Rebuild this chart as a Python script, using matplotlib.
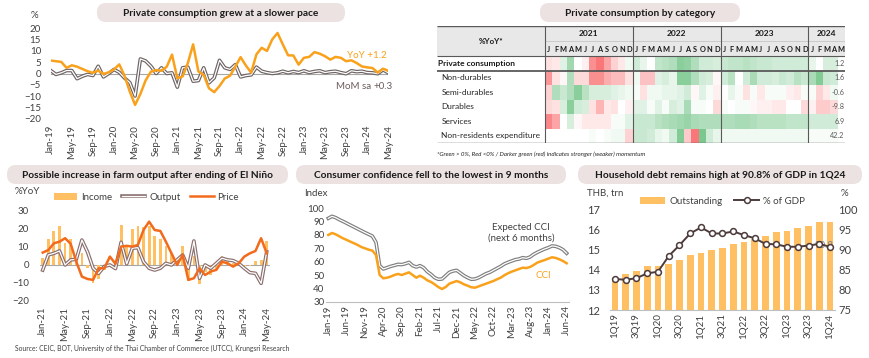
import numpy as np
import pandas as pd
import matplotlib
matplotlib.use("Agg")
import matplotlib.pyplot as plt
from matplotlib.colors import LinearSegmentedColormap
from matplotlib.patches import FancyBboxPatch, Rectangle
from matplotlib.lines import Line2D

plt.rcParams['font.family'] = ['Lato', 'DejaVu Sans']
plt.rcParams['font.size'] = 6.5
plt.rcParams['xtick.labelsize'] = 7
plt.rcParams['ytick.labelsize'] = 7
plt.rcParams['text.color'] = '#404040'
plt.rcParams['xtick.color'] = '#404040'
plt.rcParams['ytick.color'] = '#404040'

W, H = 870, 358

# ---------------- data ----------------
# private consumption, Jan-19 .. May-24
pc_months = pd.date_range('2019-01-01', periods=65, freq='MS').strftime('%b-%y').tolist()
pc_yoy = [5.7, 5.4, 5.1, 2.5, 3.6, 3.0, 2.0, 1.0, 0.3, 1.3, -0.2, 0.5,
          1.8, 4.0, -1.0, -8.0, -13.8, -9.0, -3.0, 0.8, 1.5, 1.2, 3.0, 8.3,
          -2.1, -1.3, 4.6, 12.8, 0.9, -0.6, -6.5, -8.2, -5.5, -2.2, -1.0, 3.0,
          7.2, 3.5, 0.4, 8.4, 11.3, 9.9, 15.0, 17.8, 12.8, 8.0, 7.9, 3.9,
          6.9, 7.3, 9.4, 8.7, 7.6, 6.1, 7.3, 6.9, 5.4, 5.8, 4.6, 3.1,
          2.7, 2.4, 0.4, 2.1, 1.2]
pc_mom = [1.3, -0.4, 0.3, 1.3, 1.3, -2.3, -1.2, -0.4, -0.9, 3.2, -1.5, 0.0,
          1.8, 0.5, -2.0, -4.0, -9.9, 6.4, 5.5, 3.2, 0.0, 2.5, 0.0, 0.3,
          -6.0, 2.5, 2.8, -3.4, -3.1, 2.5, -4.1, -1.9, 5.8, 2.5, 1.8, 3.9,
          -1.5, -0.9, -0.6, 2.8, 1.0, 0.4, 0.0, 0.3, 1.0, 0.3, 0.9, 0.4,
          1.2, 0.4, 0.9, 1.2, 0.4, 0.8, 1.0, 0.4, -0.1, 1.2, 0.8, 1.0,
          0.4, 0.3, -0.1, 1.6, 0.3]

# heatmap momentum scores (-1 red .. +1 green), Jan-21 .. Apr-24
hm_rows = ['Private consumption', 'Non-durables', 'Semi-durables', 'Durables',
           'Services', 'Non-residents expenditure']
hm_private = [-0.2, -0.15, 0.2, 0.6, 0.0, -0.1, -0.75, -0.9, -0.6, -0.3, -0.15, 0.1,
              0.3, 0.15, 0.0, 0.4, 0.45, 0.5, 0.75, 0.7, 0.5, 0.3, 0.3, 0.25,
              0.35, 0.4, 0.4, 0.45, 0.4, 0.35, 0.35, 0.3, 0.3, 0.3, 0.3, 0.3,
              0.15, 0.0, 0.25, 0.25]
hm_nondur = [-0.7, -0.2, -0.05, 0.5, -0.25, -0.25, -0.75, -0.75, -0.55, -0.45, -0.45, -0.2,
             0.1, -0.4, -0.4, 0.2, 0.25, 0.15, 0.75, 0.75, 0.5, 0.3, 0.25, -0.05,
             0.3, 0.45, 0.0, 0.3, 0.55, 0.3, 0.3, 0.25, 0.35, 0.3, 0.45, 0.35,
             0.55, 0.8, 0.35, 0.3]
hm_semidur = [-0.3, 0.5, 0.35, 0.5, 0.75, 0.45, 0.25, 0.25, 0.25, 0.2, 0.15, 0.1,
              0.05, -0.2, 0.1, 0.1, 0.15, 0.15, 0.2, 0.3, -0.05, 0.2, 0.05, -0.1,
              0.0, 0.15, 0.05, -0.2, 0.05, -0.15, 0.05, 0.05, 0.05, -0.1, -0.15, 0.05,
              0.05, -0.3, -0.15, 0.1]
hm_dur = [-0.25, -0.2, 0.25, 0.75, 0.3, 0.25, -0.2, -0.5, -0.15, -0.2, 0.0, -0.1,
          0.2, 0.2, 0.05, 0.2, 0.05, 0.25, 0.2, 0.55, 0.05, 0.05, 0.0, -0.25,
          0.05, 0.0, 0.05, 0.05, -0.05, -0.1, -0.1, -0.15, -0.15, 0.0, 0.0, -0.25,
          -0.1, -0.35, -0.35, -0.25]
hm_services = [-0.8, -0.6, 0.0, 0.25, -0.05, -0.15, -0.15, -0.15, -0.15, 0.05, 0.05, 0.2,
               0.35, 0.35, 0.35, 0.45, 0.5, 0.55, 0.6, 0.65, 0.55, 0.5, 0.5, 0.5,
               0.5, 0.5, 0.55, 0.55, 0.5, 0.45, 0.45, 0.45, 0.45, 0.4, 0.4, 0.4,
               0.3, 0.3, 0.3, 0.3]
hm_nonres = [0.0, 0.0, 0.0, 0.0, 0.0, 0.0, 0.05, 0.0, 0.05, 0.1, 0.1, -0.3,
             0.35, 0.35, 0.3, 0.15, 0.1, 0.3, 0.8, -0.35, -0.9, 0.85, 0.3, 0.15,
             0.1, 0.1, 0.1, 0.1, 0.1, 0.1, 0.1, 0.1, 0.1, 0.1, 0.1, 0.1,
             0.05, 0.05, 0.05, 0.05]
hm_latest = [1.2, 1.6, -0.6, -9.8, 6.9, 42.2]
hm_years = ['2021', '2022', '2023', '2024']
hm_year_len = [12, 12, 12, 5]
hm_month_letters = list('JFMAMJJASOND') * 3 + list('JFMAM')

# farm, Jan-21 .. May-24
farm_months = pd.date_range('2021-01-01', periods=41, freq='MS').strftime('%b-%y').tolist()
farm_income = [3.8, 14.1, 18.5, 21.2, 12.0, 14.0, 3.0, 6.2, -2.0, -10.0, -8.0, -3.0,
               -1.0, 0.5, 22.0, 10.0, 19.5, 21.0, 20.5, 21.0, 15.8, 14.0, 10.0, 6.0,
               2.0, 10.0, -9.0, 5.0, -10.5, -4.0, -5.5, -3.0, 5.0, 2.0, 1.0, 0.5,
               -0.5, -1.0, 2.0, 2.5, 13.0]
farm_output = [-3.0, 5.3, 6.2, 7.5, -0.2, 2.6, 2.9, 13.5, 7.0, -2.0, -4.8, -1.0,
               -0.2, -2.2, 12.3, 0.4, 9.0, 9.3, 1.6, -2.0, -3.0, -2.0, 0.7, -0.2,
               2.6, 5.3, -2.0, 13.0, -7.5, -0.2, -2.0, 0.7, 3.5, 2.6, 2.2, 0.7,
               -2.0, -4.4, -4.8, -10.3, 7.0]
farm_price = [6.6, 8.0, 11.7, 12.6, 14.5, 11.4, 1.6, -6.6, -7.9, -8.4, -2.0, -2.0,
              4.4, 0.4, 9.9, 10.3, 9.9, 10.8, 19.0, 23.6, 19.0, 18.5, 12.6, 6.2,
              -0.2, 5.3, -8.4, -7.5, -2.0, -5.7, -3.8, -2.9, 1.6, 0.7, -1.1, 0.7,
              4.4, 6.2, 7.5, 14.5, 6.2]

# consumer confidence, Jan-19 .. Jun-24
cci_months = pd.date_range('2019-01-01', periods=66, freq='MS').strftime('%b-%y').tolist()
cci_expected = [92.5, 94.0, 93.0, 91.5, 90.2, 88.8, 87.4, 86.0, 84.6, 83.2, 81.8, 80.5,
                79.2, 74.5, 57.0, 54.5, 55.5, 56.5, 57.2, 58.0, 57.8, 58.5, 59.5, 57.0,
                56.0, 57.0, 55.5, 52.5, 50.5, 48.0, 46.8, 47.0, 49.5, 52.0, 53.0, 53.5,
                51.5, 49.5, 48.0, 46.8, 47.0, 48.0, 49.5, 51.0, 52.0, 53.5, 55.0, 56.5,
                58.3, 59.5, 60.5, 61.5, 62.0, 63.0, 62.5, 63.5, 65.5, 67.0, 68.3, 69.5,
                70.5, 71.8, 71.5, 70.5, 69.0, 66.3]
cci = [80.0, 81.5, 80.5, 79.0, 77.5, 76.3, 75.0, 73.8, 72.5, 71.0, 70.0, 69.0,
       68.3, 65.0, 50.0, 47.5, 48.0, 48.8, 50.0, 50.8, 50.0, 51.0, 52.0, 50.0,
       48.0, 49.5, 48.0, 46.0, 44.8, 43.0, 41.0, 39.5, 41.0, 43.5, 44.5, 45.5,
       44.5, 43.0, 42.0, 40.8, 40.5, 41.5, 42.5, 43.5, 44.5, 45.5, 46.8, 48.0,
       49.8, 51.3, 52.5, 53.5, 54.5, 55.5, 55.2, 56.0, 57.5, 59.3, 60.3, 61.2,
       62.3, 63.3, 62.8, 61.8, 60.5, 58.8]

# household debt, 1Q19 .. 1Q24
hh_quarters = [f'{q}Q{y}' for y in range(19, 25) for q in range(1, 5)][:21]
hh_outstanding = [13.6, 13.79, 13.94, 14.2, 14.2, 14.28, 14.47, 14.73, 14.85, 14.98, 15.06,
                  15.28, 15.39, 15.53, 15.68, 15.86, 15.94, 16.09, 16.19, 16.35, 16.35]
hh_gdp = [82.7, 82.5, 82.9, 84.1, 84.5, 88.4, 91.1, 94.0, 95.5, 94.0, 94.0,
          94.5, 93.6, 92.8, 91.4, 91.3, 90.7, 90.7, 91.0, 91.4, 90.7]

# ---------------- styles ----------------
ORANGE = '#F9A11B'
PRICE = '#F26B1D'
BAR = '#FFC064'
BUBBLE = '#EBE2E1'
GRID0 = '#A6A6A6'


def box(x0, y0, x1, y1):
    return [x0 / W, 1 - y1 / H, (x1 - x0) / W, (y1 - y0) / H]


def clean(ax):
    for s in ax.spines.values():
        s.set_visible(False)
    ax.tick_params(length=0)


def double_line(ax, x, y, outer, zorder=3):
    ax.plot(x, y, color=outer, lw=2.6, zorder=zorder)
    ax.plot(x, y, color='white', lw=0.9, zorder=zorder)


fig = plt.figure(figsize=(W / 100, H / 100), dpi=100)

# overlay for title bubbles and loose text (pixel coordinates)
ov = fig.add_axes([0, 0, 1, 1], zorder=-1)
ov.set_xlim(0, W)
ov.set_ylim(H, 0)
ov.axis('off')

bubbles = [
    (97, 3, 345, 22, 'Private consumption grew at a slower pace'),
    (540, 3, 740, 22, 'Private consumption by category'),
    (7, 165, 288, 184, 'Possible increase in farm output after ending of El Niño'),
    (296, 165, 566, 184, 'Consumer confidence fell to the lowest in 9 months'),
    (578, 165, 862, 184, 'Household debt remains high at 90.8% of GDP in 1Q24'),
]
for x0, y0, x1, y1, t in bubbles:
    ov.add_patch(FancyBboxPatch((x0, y0), x1 - x0, y1 - y0,
                                boxstyle='round,pad=0,rounding_size=9',
                                fc=BUBBLE, ec='none'))
    ov.text((x0 + x1) / 2, (y0 + y1) / 2 + 0.5, t, ha='center', va='center',
            fontsize=7.3, fontweight='bold', color='#1A1A1A')

ov.text(31, 15, '%', ha='left', va='center', fontsize=7)
ov.text(15, 191, '%YoY', ha='left', va='center', fontsize=7)
ov.text(304, 193, 'Index', ha='left', va='center', fontsize=7)
ov.text(587, 193, 'THB, trn', ha='left', va='center', fontsize=7)
ov.text(844, 193, '%', ha='center', va='center', fontsize=7)
ov.text(15, 348, 'Source: CEIC, BOT, University of the Thai Chamber of Commerce (UTCC), Krungsri Research',
        ha='left', va='center', fontsize=4.9)

# ---------------- private consumption lines ----------------
ax1 = fig.add_axes(box(50.7, 28, 388.3, 119))
x = np.arange(len(pc_months))
ax1.axhline(0, color=GRID0, lw=0.8, zorder=1)
double_line(ax1, x, pc_mom, '#6E6464')
ax1.plot(x, pc_yoy, color=ORANGE, lw=1.8, zorder=4)
ax1.set_xlim(0, len(x) - 1)
ax1.set_ylim(-20, 20)
ax1.set_yticks(range(-20, 21, 5))
ax1.set_xticks(x[::4])
ax1.set_xticklabels(pc_months[::4], rotation=90)
clean(ax1)
ax1.tick_params(axis='y', pad=7)
ax1.tick_params(axis='x', pad=4.3)
ax1.text(56.2, 7.9, 'YoY +1.2', color=ORANGE, va='center', fontsize=7)
ax1.text(54.1, -5.5, 'MoM sa', color='#6B5B5B', va='center', fontsize=7)
ax1.text(61.1, -5.5, '+0.3', color='#6B5B5B', va='center', fontsize=7)

# ---------------- heatmap ----------------
hm = np.array([hm_private, hm_nondur, hm_semidur, hm_dur, hm_services, hm_nonres])
cmap = LinearSegmentedColormap.from_list('rwg', ['#F8696B', '#FFFFFF', '#63BE7B'])
axh = fig.add_axes(box(437, 26, 845, 143))
LBL = -14.76
axh.set_xlim(LBL, 41)
axh.set_ylim(6, -2.1)
axh.axis('off')
axh.add_patch(Rectangle((LBL, -2.1), 41 - LBL, 2.1, fc='#E9E8E8', ec='none', zorder=0))
axh.pcolormesh(np.arange(hm.shape[1] + 1), np.arange(hm.shape[0] + 1), hm,
               cmap=cmap, vmin=-1, vmax=1, linewidth=0, antialiased=False, zorder=1)
dark = '#595959'
axh.hlines(-2.1, LBL, 41, color=dark, lw=1.0, zorder=3)
axh.hlines(-1.05, 0, 41, color='#BFBFBF', lw=0.5, zorder=3)
axh.hlines(0, LBL, 41, color=dark, lw=0.8, zorder=3)
axh.hlines(1, LBL, 41, color=dark, lw=1.3, zorder=3)
axh.hlines(6, LBL, 41, color=dark, lw=1.0, zorder=3)
bounds = np.concatenate([[0], np.cumsum(hm_year_len)])
axh.vlines(bounds[:-1], -2.1, 6, color=dark, lw=0.8, zorder=3)
for yr, a, b in zip(hm_years, bounds[:-1], bounds[1:]):
    axh.text((a + b) / 2, -1.55, yr, ha='center', va='center', fontsize=6,
             fontweight='bold', color='#1A1A1A')
for i, m in enumerate(hm_month_letters):
    axh.text(i + 0.5, -0.5, m, ha='center', va='center', fontsize=5.3,
             fontweight='bold', color='#1A1A1A')
axh.text(LBL / 2, -1.05, '%YoY*', ha='center', va='center', fontsize=5.8,
         fontweight='bold', color='#1A1A1A')
for r, (name, v) in enumerate(zip(hm_rows, hm_latest)):
    if r == 0:
        axh.text(LBL + 0.2, r + 0.5, name, ha='left', va='center', fontsize=6,
                 fontweight='bold', color='#1A1A1A')
    else:
        axh.text(LBL + 0.6, r + 0.5, name, ha='left', va='center', fontsize=6,
                 color='#262626')
    axh.text(40.95, r + 0.5, f'{v:.1f}', ha='right', va='center', fontsize=5.2,
             color='#595959')
axh.text(LBL, 6.75, '*Green > 0%, Red <0% / Darker green (red) indicates stronger (weaker) momentum',
         ha='left', va='center', fontsize=4.4, style='italic', color='#262626')

# ---------------- farm ----------------
ax2 = fig.add_axes(box(39.9, 210, 269.5, 301))
xf = np.arange(len(farm_months))
ax2.axhline(0, color=GRID0, lw=0.8, zorder=1)
bars = ax2.bar(xf, farm_income, width=0.5, color=BAR, zorder=2, label='Income')
double_line(ax2, xf, farm_output, '#8B6F6F')
ax2.plot(xf, farm_price, color=PRICE, lw=1.8, zorder=4)
ax2.set_xlim(-0.5, len(xf) - 0.5)
ax2.set_ylim(-20, 30)
ax2.set_yticks(range(-20, 31, 10))
ax2.set_xticks(xf[::4])
ax2.set_xticklabels(farm_months[::4], rotation=90)
clean(ax2)
ax2.tick_params(axis='y', pad=8)
ax2.tick_params(axis='x', pad=4.3)
out_h = (Line2D([], [], color='#8B6F6F', lw=2.6), Line2D([], [], color='white', lw=0.9))
price_h = Line2D([], [], color=PRICE, lw=1.8)
ax2.legend([bars, out_h, price_h], ['Income', 'Output', 'Price'], ncol=3,
           loc='center', bbox_to_anchor=(0.464, 1 + 13 / 91), frameon=False,
           fontsize=7, handlelength=2.4, columnspacing=1.0, handletextpad=0.4,
           borderpad=0)

# ---------------- consumer confidence ----------------
ax3 = fig.add_axes(box(326.5, 208.3, 568.5, 301.7))
xc = np.arange(len(cci_months))
double_line(ax3, xc, cci_expected, '#7F7F7F')
ax3.plot(xc, cci, color=ORANGE, lw=1.8, zorder=4)
ax3.set_xlim(-0.5, len(xc) - 0.5)
ax3.set_ylim(30, 100)
ax3.set_yticks(range(30, 101, 10))
ax3.set_xticks(xc[::5])
ax3.set_xticklabels(cci_months[::5], rotation=90)
clean(ax3)
ax3.spines['bottom'].set_visible(True)
ax3.spines['bottom'].set_color('#BFBFBF')
ax3.tick_params(axis='y', pad=1.5)
ax3.tick_params(axis='x', pad=2.5)
ax3.text(52.5, 81.5, 'Expected CCI\n(next 6 months)', ha='center', va='center',
         color='#404040', fontsize=7, linespacing=1.2)
ax3.text(58.5, 50, 'CCI', ha='center', va='center', color=ORANGE, fontsize=7)

# ---------------- household debt ----------------
ax4 = fig.add_axes(box(609.6, 209.3, 835.4, 310))
xq = np.arange(len(hh_quarters))
b4 = ax4.bar(xq, hh_outstanding, width=0.62, color=BAR, zorder=2)
ax4.set_xlim(-0.5, len(xq) - 0.5)
ax4.set_ylim(12, 17)
ax4.set_xticks(xq[::2])
ax4.set_xticklabels(hh_quarters[::2], rotation=90)
clean(ax4)
ax4.spines['bottom'].set_visible(True)
ax4.spines['bottom'].set_color('#BFBFBF')
ax4.tick_params(axis='y', pad=7)
ax4.tick_params(axis='x', pad=2.5)
for lab in ax4.get_yticklabels():
    lab.set_fontsize(8)
ax4b = ax4.twinx()
ax4b.plot(xq, hh_gdp, color='#4D3B3B', lw=1.4, marker='o', markersize=4.2,
          markerfacecolor='white', markeredgecolor='#4D3B3B', markeredgewidth=1.1, zorder=5)
ax4b.set_ylim(75, 100)
ax4b.set_yticks(range(75, 101, 5))
clean(ax4b)
ax4b.tick_params(axis='y', pad=2)
for lab in ax4b.get_yticklabels():
    lab.set_fontsize(8)
ax4b.text(19.45, 90.9, f'{hh_gdp[-1] + 0.1:.1f}', ha='center', va='center',
          color='#7F7F7F', fontsize=7)
gdp_h = Line2D([], [], color='#4D3B3B', lw=1.4, marker='o', markersize=4.2,
               markerfacecolor='white', markeredgecolor='#4D3B3B', markeredgewidth=1.1)
ax4.legend([b4, gdp_h], ['Outstanding', '% of GDP'], ncol=2, loc='center',
           bbox_to_anchor=(0.5, 1 + 8 / 100.7), frameon=False, fontsize=7,
           handlelength=2.6, columnspacing=1.2, handletextpad=0.4, borderpad=0)

fig.savefig('out.png', dpi=100)
